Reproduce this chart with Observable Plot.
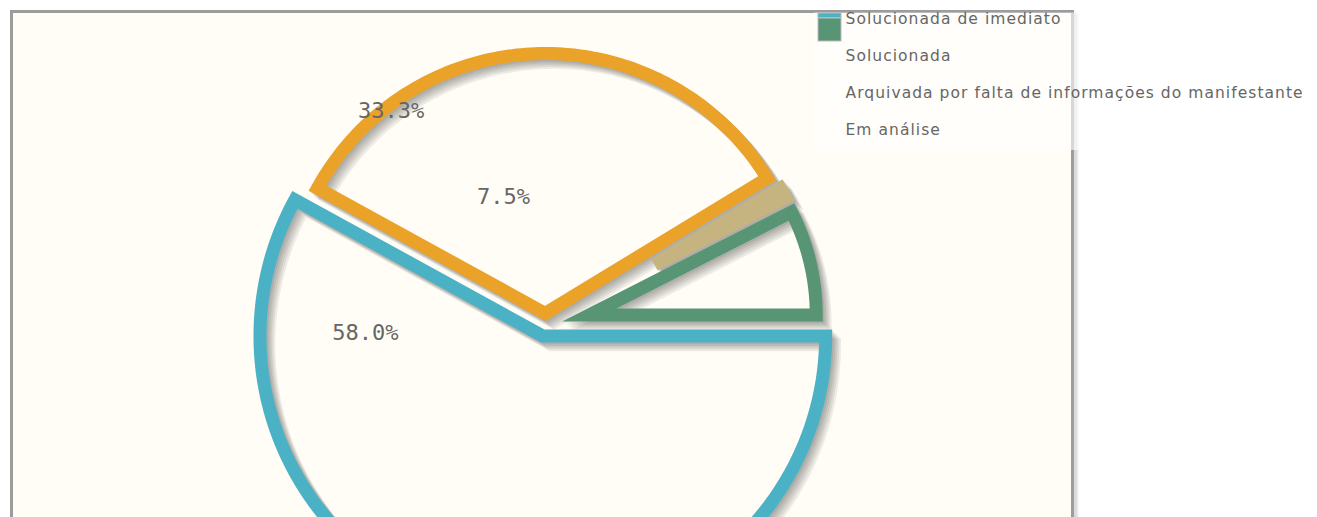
<!DOCTYPE html>
<html><head><meta charset="utf-8">
<script src="https://cdn.jsdelivr.net/npm/d3@7"></script>
<script src="https://cdn.jsdelivr.net/npm/@observablehq/plot@0.6"></script>
<style>html,body{margin:0;padding:0;background:#fff;overflow:hidden;}</style>
</head><body><div id="chart"></div>
<script>
// ---- data ----
const categories = ["Solucionada de imediato", "Solucionada", "Arquivada por falta de informações do manifestante", "Em análise"];
const values = [58.0, 33.3, 1.2, 7.5];
const colors = ["#4bb2c5", "#EAA228", "#c5b47f", "#579575"];

// ---- layout ----
const W = 1317, H = 560;
const cx = 545, cy = 325;            // pie centre (px)
const R = 272, lineW = 13, sliceMargin = 8, maxOffset = 125;
const shadowDepth = 5, shadowOffset = 2.5, shadowAlpha = 0.07;
const labelCenter = [-152, -102], labelRadius = 113, labelThreshold = 3;
const legendX = 845, legendY = 19, legendStep = 37;

const total = d3.sum(values);
let acc = 0;
const slices = values.map((v, i) => {
  const a1 = acc / total * 2 * Math.PI; acc += v; const a2 = acc / total * 2 * Math.PI;
  const th = a2 - a1, mid = (a1 + a2) / 2;
  const sm = sliceMargin + lineW;
  const off = Math.min(sm / 2 / Math.sin(th / 2), maxOffset);
  const r = th <= Math.PI ? R - off : R + off;
  const vx = off * Math.cos(mid), vy = off * Math.sin(mid);
  const n = Math.max(2, Math.ceil(th / (Math.PI / 180)));
  const pts = d3.range(n + 1).map(k => { const a = a1 + th * k / n; return {x: vx + r * Math.cos(a), y: vy + r * Math.sin(a)}; });
  pts.push({x: vx, y: vy});
  return {i, v, mid, pts, color: colors[i], pct: v / total * 100};
});

const px = x => x - cx, py = y => y - cy;

const marks = [];
// grid shadow + frame
for (let k = 1; k <= 3; k++) marks.push(Plot.frame({stroke: "#000", strokeOpacity: 0.07, strokeWidth: 3, dx: k * 1.5, dy: k * 1.5}));
marks.push(Plot.frame({fill: "#fffdf6", stroke: "#9c9c9c", strokeWidth: 3}));

// slice shadows
for (const s of slices) {
  for (let k = 1; k <= shadowDepth; k++) {
    marks.push(Plot.line(s.pts, {x: "x", y: "y", curve: "linear-closed", stroke: "#000", strokeOpacity: shadowAlpha,
      strokeWidth: lineW, strokeLinejoin: "miter", strokeMiterlimit: 10,
      dx: k * shadowOffset * Math.SQRT1_2, dy: k * shadowOffset * Math.SQRT1_2}));
  }
}
// slices
for (const s of slices) {
  marks.push(Plot.line(s.pts, {x: "x", y: "y", curve: "linear-closed", stroke: s.color,
    strokeWidth: lineW, strokeLinejoin: "miter", strokeMiterlimit: 10}));
}
// data labels
const labels = slices.filter(s => s.pct >= labelThreshold).map(s => ({
  x: labelCenter[0] + labelRadius * Math.cos(s.mid),
  y: labelCenter[1] + labelRadius * Math.sin(s.mid),
  t: d3.format(".1f")(s.pct) + "%"
}));
marks.push(Plot.text(labels, {x: "x", y: "y", text: "t", fontFamily: "DejaVu Sans Mono", fontSize: 22, fill: "#666", textAnchor: "middle", lineAnchor: "middle"}));

// legend
marks.push(Plot.rect([0], {x1: px(814), x2: px(1082), y1: py(12.5), y2: py(150), fill: "white", fillOpacity: 0.6}));
const sw = [{i: 0, y1: 13, y2: 17.5}, {i: 3, y1: 18, y2: 41}];
marks.push(Plot.rect(sw, {x1: px(818), x2: px(841), y1: d => py(d.y1), y2: d => py(d.y2), fill: d => colors[d.i], stroke: "#bbb", strokeWidth: 1}));
marks.push(Plot.text(categories, {x: px(legendX), y: (d, i) => py(legendY + i * legendStep), text: d => d,
  fontFamily: "DejaVu Sans", fontSize: 15.5, fill: "#666", textAnchor: "start", lineAnchor: "middle"}));

const chart = Plot.plot({
  width: W, height: H,
  marginLeft: 11, marginTop: 11, marginRight: W - 1072, marginBottom: 10,
  x: {domain: [-cx, W - cx], range: [0, W], axis: null},
  y: {domain: [-cy, H - cy], range: [0, H], axis: null},
  color: {type: "identity"},
  style: {background: "#fff", overflow: "visible"},
  marks
});
const textGroups = chart.querySelectorAll('g[aria-label="text"]');
textGroups[textGroups.length - 1].setAttribute("letter-spacing", "1.05");
document.getElementById("chart").appendChild(chart);
</script>
</body></html>
